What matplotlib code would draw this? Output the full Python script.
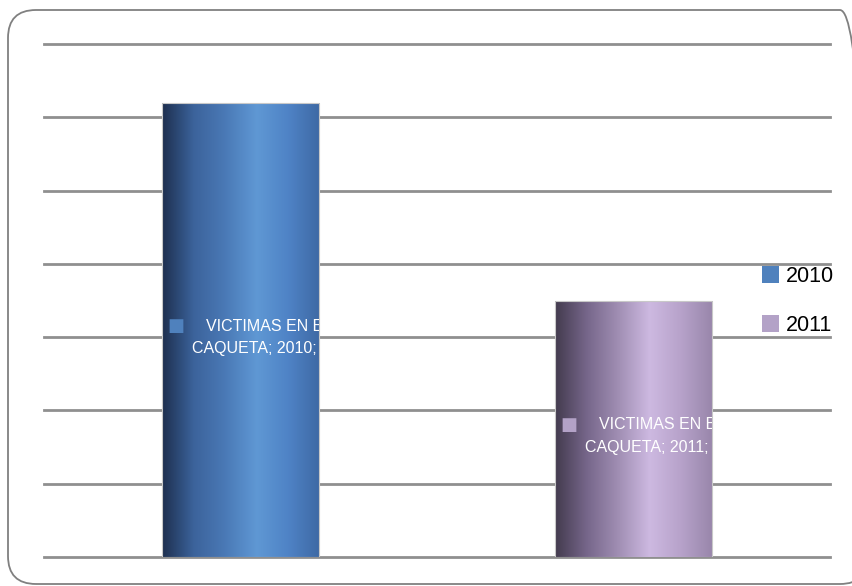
import numpy as np
import matplotlib.pyplot as plt
from matplotlib.colors import LinearSegmentedColormap
from matplotlib.patches import FancyBboxPatch, Patch

# Data
years = ['2010', '2011']
victims = [619, 349]
series_name = 'VICTIMAS EN EL\nCAQUETA'
legend_colors = ['#4f81bd', '#b3a2c7']
gradients = [
    ['#1d2f4f', '#3c639b', '#4a79b6', '#5f98d4', '#4f83c6', '#3e69a4'],
    ['#433b4e', '#76668a', '#a08eb3', '#cdb9e1', '#b7a2ca', '#9886aa'],
]

plt.rcParams['font.family'] = ['Liberation Sans', 'DejaVu Sans']

fig = plt.figure(figsize=(8.52, 5.86), dpi=100)
ax = fig.add_axes([44/852, 29/586, 786/852, 513/586])

# rounded frame (runs off the right edge like the original)
frame = FancyBboxPatch((0.08, 0.02), 8.6, 5.74, boxstyle='round,pad=0,rounding_size=0.28',
                       transform=fig.dpi_scale_trans, facecolor='none',
                       edgecolor='#808080', lw=1.3, zorder=0)
fig.patches.append(frame)

x = np.arange(len(years))
width = 0.4
bars = ax.bar(x, victims, width, color='none', edgecolor='#c8c8c8', lw=0.8, zorder=3)

for bar, cols in zip(bars, gradients):
    cmap = LinearSegmentedColormap.from_list('g', cols)
    grad = np.linspace(0, 1, 256).reshape(1, -1)
    x0, h = bar.get_x(), bar.get_height()
    im = ax.imshow(grad, cmap=cmap, aspect='auto', extent=(x0, x0 + bar.get_width(), 0, h),
                   zorder=2, interpolation='bilinear')
    im.set_clip_path(bar)

ax.set_xlim(-0.5, 1.5)
ax.set_ylim(0, 700)
ax.set_yticks(np.arange(0, 701, 100))
ax.yaxis.grid(True, color='#8f8f8f', lw=2.0, zorder=1)
for gl in ax.get_ygridlines():
    gl.set_clip_on(False)
ax.set_axisbelow(True)
ax.tick_params(left=False, bottom=False, labelleft=False, labelbottom=False)
for s in ax.spines.values():
    s.set_visible(False)

# data labels, clipped to bar
for bar, yr, v, c in zip(bars, years, victims, legend_colors):
    xl = bar.get_x()
    ym = bar.get_height() / 2
    line1, line2 = series_name.split('\n')
    t0 = ax.annotate('■', (xl, ym), xytext=(4, 3), textcoords='offset points',
                     color=c, fontsize=13, va='center', ha='left', zorder=4,
                     family='DejaVu Sans')
    t1 = ax.annotate(line1, (xl, ym), xytext=(32, 3), textcoords='offset points',
                     color='white', fontsize=11.5, va='center', ha='left', zorder=4)
    t2 = ax.annotate('{}; {}; {}'.format(line2, yr, v), (xl, ym), xytext=(22, -13),
                     textcoords='offset points', color='white', fontsize=11.5,
                     va='center', ha='left', zorder=4)
    for t in (t0, t1, t2):
        t.set_clip_path(bar)

handles = [Patch(facecolor=c, edgecolor='none') for c in legend_colors]
ax.legend(handles, years, loc='center left', bbox_to_anchor=(762/852, 1 - 301/586),
          bbox_transform=fig.transFigure, frameon=False, fontsize=15.5,
          handlelength=0.8, handleheight=0.8, handletextpad=0.3, labelspacing=1.3,
          borderpad=0, borderaxespad=0)

fig.savefig('out.png', dpi=100)
